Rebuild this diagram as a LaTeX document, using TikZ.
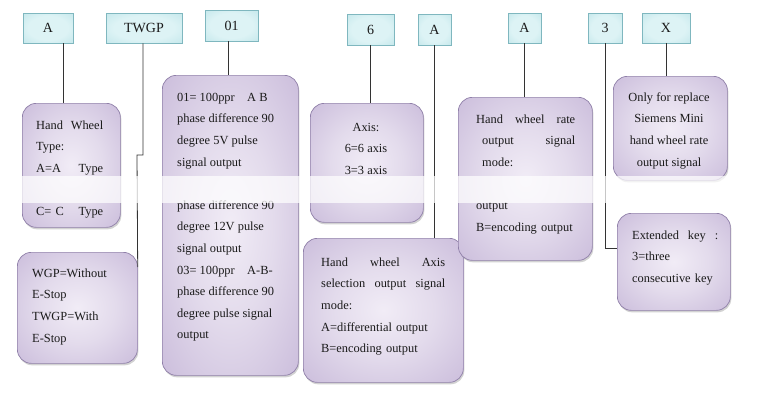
\documentclass[tikz,border=0pt]{standalone}
\usepackage{fontspec}
\setmainfont{Liberation Serif}
\usetikzlibrary{shadows,calc}
\definecolor{pin}{HTML}{F1ECF6}
\definecolor{pmid}{HTML}{E3DBEC}
\definecolor{pout}{HTML}{BAA8D0}
\definecolor{pedge}{HTML}{A08BBA}
\definecolor{pborder}{HTML}{9080A9}
\definecolor{cin}{HTML}{DDF3F5}
\definecolor{cout}{HTML}{B0DEE3}
\definecolor{cedge}{HTML}{98CFD6}
\definecolor{cborder}{HTML}{7FB7BF}
\definecolor{ink}{HTML}{1A1A1A}
\definecolor{wire}{HTML}{333333}
\pgfdeclareradialshading{pshade}{\pgfpoint{0bp}{0bp}}{color(0bp)=(pin); color(16bp)=(pmid); color(50bp)=(pout); color(72bp)=(pedge)}
\pgfdeclareradialshading{cshade}{\pgfpoint{0bp}{0bp}}{color(0bp)=(cin); color(20bp)=(cin); color(50bp)=(cout); color(72bp)=(cedge)}
\begin{document}
\begin{tikzpicture}[x=1pt,y=-1pt,
  codebox/.style={shading=cshade, draw=cborder, line width=0.5pt, inner sep=0pt,
    font=\fontsize{14}{16}\selectfont, text=ink,
    drop shadow={shadow xshift=1pt,shadow yshift=-1pt,opacity=0.25,fill=black}},
  infobox/.style={shading=pshade, draw=pborder, line width=0.7pt, rounded corners=14pt,
    inner sep=0pt, anchor=north west,
    drop shadow={shadow xshift=1pt,shadow yshift=-2pt,opacity=0.35,fill=gray}},
  txt/.style={font=\fontsize{12.4}{21.6}\selectfont, text=ink, inner sep=0pt, anchor=north west, align=left},
  ctxt/.style={font=\fontsize{12.4}{21.6}\selectfont, text=ink, inner sep=0pt, anchor=north, align=center},
  wireline/.style={draw=wire, line width=0.8pt}]
\useasboundingbox (0,0) rectangle (770,400);
\fill[white] (0,0) rectangle (770,400);

% code boxes
\node[codebox, minimum width=50pt, minimum height=30pt] (cA)    at (48,28)    {A};
\node[codebox, minimum width=76pt, minimum height=30pt] (cTWGP) at (144,28)   {TWGP};
\node[codebox, minimum width=53pt, minimum height=31pt] (c01)   at (231.5,25.5) {01};
\node[codebox, minimum width=47pt, minimum height=31pt] (c6)    at (370.5,29.5) {6};
\node[codebox, minimum width=33pt, minimum height=31pt] (cAtwo) at (434.5,29.5) {A};
\node[codebox, minimum width=33pt, minimum height=30pt] (cAthree) at (524.5,28) {A};
\node[codebox, minimum width=34pt, minimum height=30pt] (c3)    at (605,28)   {3};
\node[codebox, minimum width=48pt, minimum height=30pt] (cX)    at (666,28)   {X};

% info boxes
\node[infobox, minimum width=98pt,  minimum height=124pt] (bA)    at (22,103)  {};
\node[infobox, minimum width=120pt, minimum height=111pt] (bWGP)  at (17,252)  {};
\node[infobox, minimum width=136pt, minimum height=300pt] (b01)   at (162,75)  {};
\node[infobox, minimum width=113pt, minimum height=119pt] (bAxis) at (310,103) {};
\node[infobox, minimum width=160pt, minimum height=144pt] (bSel)  at (303,238) {};
\node[infobox, minimum width=134pt, minimum height=163pt] (bRate) at (458,97)  {};
\node[infobox, minimum width=114pt, minimum height=104pt] (bOnly) at (613,76)  {};
\node[infobox, minimum width=113pt, minimum height=97pt]  (bExt)  at (617,213) {};

% texts
\node[txt, text width=67pt] (tA) at (36,120)
  {\rule{0pt}{9pt}Hand\hfill Wheel\\ Type:\\ A=A\hfill Type\\ \mbox{}\\ C= C\hfill Type};
\node[txt] (tWGP) at (32,268)
  {\rule{0pt}{9pt}WGP=Without\\ E-Stop\\ TWGP=With\\ E-Stop};
\node[txt] (t01) at (177,92)
  {\rule{0pt}{9pt}01= 100ppr\quad A B\\ phase difference 90\\ degree 5V pulse\\ signal output\\ \mbox{}\\
   phase difference 90\\ degree 12V pulse\\ signal output\\ 03= 100ppr\quad A-B-\\
   phase difference 90\\ degree pulse signal\\ output};
\node[ctxt] (tAxis) at (366,122)
  {\rule{0pt}{9pt}Axis:\\ 6=6 axis\\ 3=3 axis};
\node[txt, text width=124pt] (tSel) at (321,257)
  {\rule{0pt}{9pt}Hand\hfill wheel\hfill Axis\\ selection\hfill output\hfill signal\\ mode:\\
   A=differential output\\ B=encoding output};
\node[txt, text width=99pt] (tRate) at (476,114)
  {\rule{0pt}{9pt}Hand\hfill wheel\hfill rate\\ \hspace*{6pt}output\hfill signal\hspace*{2pt}\\
   \hspace*{6pt}mode:\\ \mbox{}\\ output\\ B=encoding output};
\node[ctxt] (tOnly) at (669,92)
  {\rule{0pt}{9pt}Only for replace\\ Siemens Mini\\ hand wheel rate\\ output signal};
\node[txt, text width=86pt] (tExt) at (632,230)
  {\rule{0pt}{9pt}Extended\hfill key\hfill :\\ 3=three\\ consecutive key};

% connectors
\draw[wireline] ([xshift=15pt]cA.south) -- ([xshift=15pt]cA.south |- bA.north);
\draw[wireline] ([xshift=-1pt]cTWGP.south) -- (143,155) -- (137,155) -- ([yshift=-15pt]bWGP.north east);
\draw[wireline] ([xshift=-3pt]c01.south) -- ([xshift=-3pt]c01.south |- b01.north);
\draw[wireline] (c6.south) -- (c6.south |- bAxis.north);
\draw[wireline] (cAtwo.south) -- (cAtwo.south |- bSel.north);
\draw[wireline] (cAthree.south) -- (cAthree.south |- bRate.north);
\draw[wireline] (c3.south) |- ([yshift=13.5pt]bExt.west);
\draw[wireline] (cX.south) -- (cX.south |- bOnly.north);

% faded band
\fill[white, opacity=0.72] (0,176) rectangle (770,203);
\end{tikzpicture}
\end{document}
